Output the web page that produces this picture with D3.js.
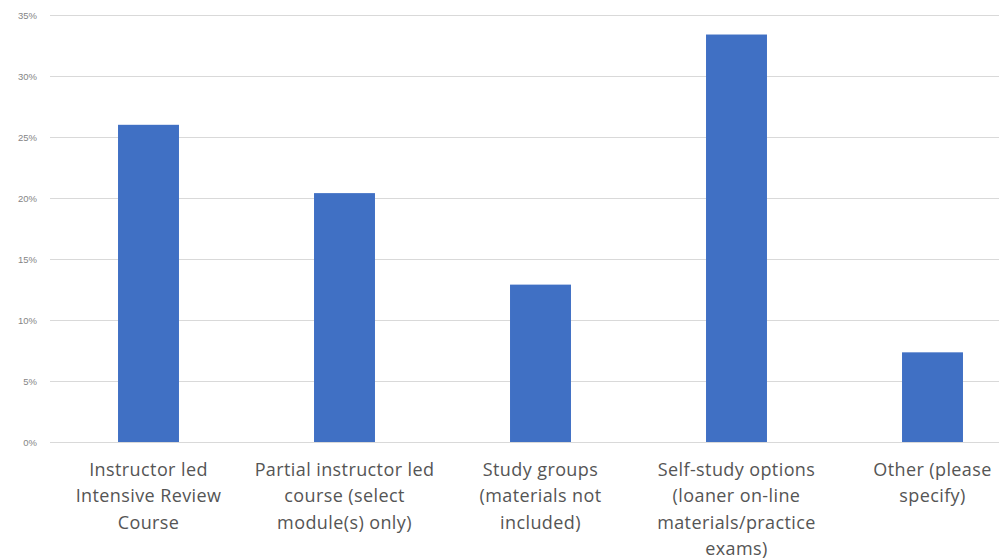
<!DOCTYPE html>
<html>
<head>
<meta charset="utf-8">
<script src="https://cdn.jsdelivr.net/npm/d3@7/dist/d3.min.js"></script>
<style>
  html, body { margin: 0; padding: 0; background: #fff; }
  svg { display: block; }
</style>
</head>
<body>
<svg id="chart" width="999" height="560"></svg>
<script>
// Study-option preferences (share of respondents)
const categories = [
  ["Instructor led", "Intensive Review", "Course"],
  ["Partial instructor led", "course (select", "module(s) only)"],
  ["Study groups", "(materials not", "included)"],
  ["Self-study options", "(loaner on-line", "materials/practice", "exams)"],
  ["Other (please", "specify)"]
];
const values = [0.260, 0.204, 0.129, 0.334, 0.0735];
const yTicks = [0, 0.05, 0.10, 0.15, 0.20, 0.25, 0.30, 0.35];

const svg = d3.select("#chart");
const W = 999;

const x = d3.scaleBand()
  .domain(d3.range(categories.length))
  .range([50.5, 1030.5])
  .paddingInner(0.689)
  .paddingOuter(0.3445);

const y = d3.scaleLinear()
  .domain([0, 0.35])
  .range([442, 15]);

// Horizontal gridlines
svg.append("g")
  .selectAll("line")
  .data(yTicks)
  .join("line")
  .attr("x1", 50)
  .attr("x2", W)
  .attr("y1", d => Math.round(y(d)) + 0.5)
  .attr("y2", d => Math.round(y(d)) + 0.5)
  .attr("stroke", "#d9d9d9")
  .attr("stroke-width", 1);

// Y axis labels
const yAxis = d3.axisLeft(y)
  .tickValues(yTicks)
  .tickFormat(d3.format(".0%"))
  .tickSize(0)
  .tickPadding(0);

svg.append("g")
  .attr("transform", "translate(37,0)")
  .call(yAxis)
  .call(g => g.select(".domain").remove())
  .call(g => g.selectAll("text")
    .attr("fill", "#858585")
    .style("font-family", "'Liberation Sans', Arial, sans-serif")
    .style("font-size", "9.5px"));

// Bars
svg.append("g")
  .selectAll("rect")
  .data(values)
  .join("rect")
  .attr("x", (d, i) => x(i))
  .attr("width", x.bandwidth())
  .attr("y", d => y(d))
  .attr("height", d => y(0) - y(d))
  .attr("fill", "#4070c4");

// Category labels (wrapped, centred under each bar)
const labels = svg.append("g")
  .selectAll("text")
  .data(categories)
  .join("text")
  .attr("text-anchor", "middle")
  .attr("fill", "#555")
  .style("font-family", "'Open Sans', sans-serif")
  .style("font-size", "18px")
  .style("letter-spacing", "0.4px");

labels.each(function(lines, i) {
  const t = d3.select(this);
  lines.forEach((ln, k) => {
    t.append("tspan")
      .attr("x", x(i) + x.bandwidth() / 2)
      .attr("y", 476 + k * 26.3)
      .text(ln);
  });
});
</script>
</body>
</html>
